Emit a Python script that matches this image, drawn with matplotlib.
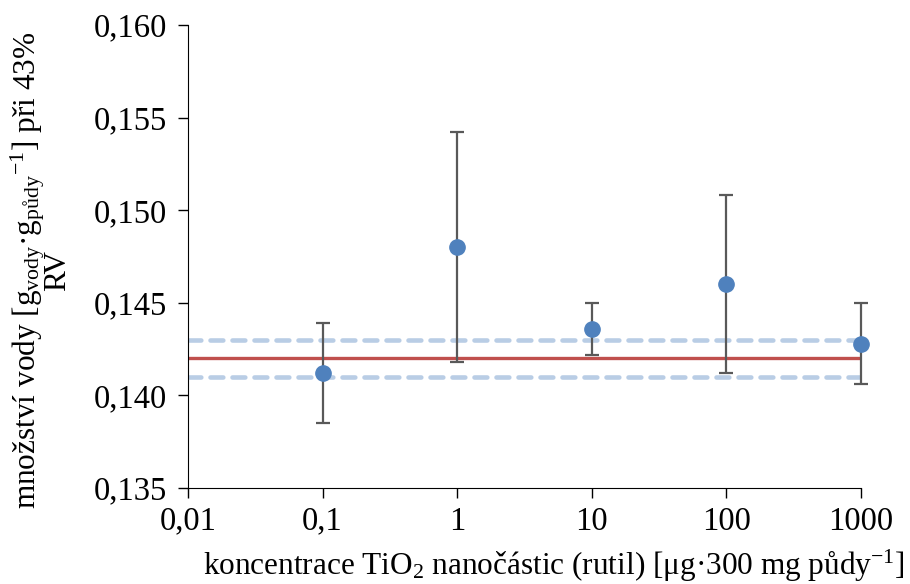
import matplotlib
matplotlib.use("Agg")
from matplotlib import pyplot as plt

# font podobny Times New Roman
plt.rcParams['font.family'] = ['Liberation Serif', 'DejaVu Serif']
plt.rcParams['mathtext.fontset'] = 'custom'
plt.rcParams['mathtext.rm'] = 'Liberation Serif'
plt.rcParams['mathtext.it'] = 'Liberation Serif:italic'

# data
koncentrace = [0.1, 1, 10, 100, 1000]
voda = [0.1412, 0.1480, 0.1436, 0.1460, 0.1428]
chyba = [0.0027, 0.0062, 0.0014, 0.0048, 0.0022]

kontrola = 0.142
kontrola_dolni = 0.141
kontrola_horni = 0.143
x_rozsah = [0.01, 1000]

y_ticks = [0.135, 0.140, 0.145, 0.150, 0.155, 0.160]
y_labels = ["0,135", "0,140", "0,145", "0,150", "0,155", "0,160"]
x_ticks = [0.01, 0.1, 1, 10, 100, 1000]
x_labels = ["0,01", "0,1", "1", "10", "100", "1000"]

fig = plt.figure(figsize=(9.1, 5.84), dpi=100)
ax = fig.add_axes([0.2066, 0.1644, 0.7394, 0.7928])

# kontrola a interval
ax.plot(x_rozsah, [kontrola_horni] * 2, color="#b9cde5", lw=3.3, ls=(0, (2.8, 2.0)),
        dash_capstyle="round", zorder=1)
ax.plot(x_rozsah, [kontrola_dolni] * 2, color="#b9cde5", lw=3.3, ls=(0, (2.8, 2.0)),
        dash_capstyle="round", zorder=1)
ax.plot(x_rozsah, [kontrola] * 2, color="#c0504d", lw=2.4, zorder=2)

eb = ax.errorbar(koncentrace, voda, yerr=chyba, fmt="o", color="#4f81bd", ms=11,
                 ecolor="#595959", elinewidth=1.6, capsize=5, capthick=1.6, zorder=3)
for art in eb.lines[1] + eb.lines[2]:
    art.set_clip_on(False)
eb.lines[0].set_clip_on(False)

ax.set_xscale("log")
ax.set_xlim(0.01, 1000)
ax.set_ylim(0.135, 0.160)
ax.set_xticks(x_ticks)
ax.set_xticklabels(x_labels)
ax.minorticks_off()
ax.set_yticks(y_ticks)
ax.set_yticklabels(y_labels)
ax.tick_params(labelsize=23.5, length=7, width=1)
ax.tick_params(axis="x", pad=6)
ax.tick_params(axis="y", pad=8)

ax.spines["top"].set_visible(False)
ax.spines["right"].set_visible(False)

ax.set_xlabel(r"koncentrace TiO$_{2}$ nanočástic (rutil) [μg·300 mg půdy$^{-1}$]", fontsize=22.5)
ax.xaxis.set_label_coords(0.543, -0.13)
ax.set_ylabel("množství vody [g$_{\\mathrm{vody}}$·g$_{\\mathrm{půdy}}$$^{-1}$] při 43%\nRV",
              fontsize=22.5, linespacing=0.85)
ax.yaxis.set_label_coords(-0.172, 0.47)

plt.savefig("out.png", dpi=100)
